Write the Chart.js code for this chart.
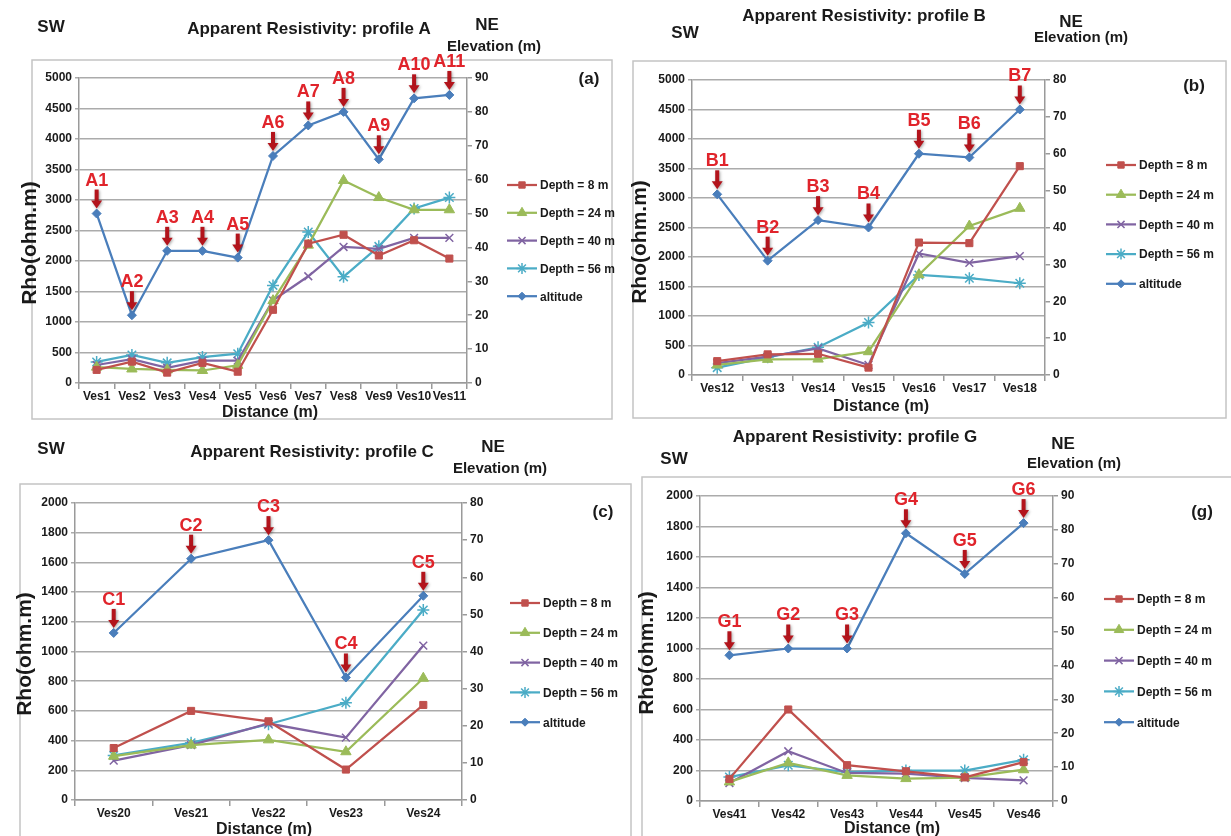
<!DOCTYPE html>
<html>
<head>
<meta charset="utf-8">
<script src="https://cdn.jsdelivr.net/npm/chart.js@4.4.1/dist/chart.umd.min.js"></script>
<style>
  body { margin: 0; background: #fff; width: 1231px; height: 836px; overflow: hidden; position: relative; }
  canvas { position: absolute; }
</style>
</head>
<body>
<canvas id="panelA"></canvas>
<canvas id="panelB"></canvas>
<canvas id="panelC"></canvas>
<canvas id="panelG"></canvas>
<script>
// ---- datos ----
const categoriasA = ['Ves1', 'Ves2', 'Ves3', 'Ves4', 'Ves5', 'Ves6', 'Ves7', 'Ves8', 'Ves9', 'Ves10', 'Ves11'];
const prof8A = [215, 350, 170, 330, 185, 1200, 2285, 2430, 2090, 2340, 2040];
const prof24A = [260, 230, 215, 205, 290, 1350, 2260, 3320, 3040, 2840, 2840];
const prof40A = [295, 390, 250, 365, 365, 1355, 1750, 2230, 2200, 2380, 2380];
const prof56A = [345, 460, 330, 425, 480, 1600, 2475, 1740, 2240, 2860, 3040];
const altitudA = [50, 20, 39, 39, 37, 67, 76, 80, 66, 84, 85];
const marcasA = ['A1', 'A2', 'A3', 'A4', 'A5', 'A6', 'A7', 'A8', 'A9', 'A10', 'A11'];

const categoriasB = ['Ves12', 'Ves13', 'Ves14', 'Ves15', 'Ves16', 'Ves17', 'Ves18'];
const prof8B = [235, 350, 360, 125, 2245, 2235, 3540];
const prof24B = [170, 265, 270, 395, 1700, 2525, 2825];
const prof40B = [200, 310, 450, 170, 2060, 1900, 2015];
const prof56B = [125, 300, 470, 890, 1695, 1640, 1555];
const altitudB = [49, 31, 42, 40, 60, 59, 72];
const marcasB = ['B1', 'B2', 'B3', 'B4', 'B5', 'B6', 'B7'];

const categoriasC = ['Ves20', 'Ves21', 'Ves22', 'Ves23', 'Ves24'];
const prof8C = [350, 600, 530, 205, 640];
const prof24C = [295, 370, 405, 325, 820];
const prof40C = [265, 370, 515, 420, 1040];
const prof56C = [300, 385, 510, 655, 1280];
const altitudC = [45, 65, 70, 33, 55];
const marcasC = ['C1', 'C2', 'C3', 'C4', 'C5'];

const categoriasG = ['Ves41', 'Ves42', 'Ves43', 'Ves44', 'Ves45', 'Ves46'];
const prof8G = [145, 600, 235, 195, 155, 255];
const prof24G = [125, 250, 168, 147, 153, 205];
const prof40G = [118, 326, 184, 180, 151, 135];
const prof56G = [157, 234, 190, 200, 200, 270];
const altitudG = [43, 45, 45, 79, 67, 82];
const marcasG = ['G1', 'G2', 'G3', 'G4', 'G5', 'G6'];

const nombresSeries = ['Depth = 8 m', 'Depth = 24 m', 'Depth = 40 m', 'Depth = 56 m', 'altitude'];

// ---- estilos ----
const estilos = [
  { color: '#C0504D', punto: 'rect', radio: 5, borde: 1 },
  { color: '#9BBB59', punto: 'triangle', radio: 6, borde: 1 },
  { color: '#8064A2', punto: 'crossRot', radio: 5.5, borde: 1.5 },
  { color: '#4BACC6', punto: 'star', radio: 6, borde: 1.5 },
  { color: '#4A7EBB', punto: 'rectRot', radio: 4.5, borde: 1 }
];
const FUENTE = '"Liberation Sans", Arial, sans-serif';

// layout de cada panel, en coordenadas de la pagina
const paneles = {
  A: {
    caja: { x: 0, y: 0, w: 620, h: 420 },
    area: { left: 79, right: 467, top: 78, bottom: 383 },
    marco: { x: 32, y: 60, w: 580, h: 359 },
    maxY: 5000, pasoY: 500, maxY2: 90,
    titulo: 'Apparent Resistivity: profile A', posTitulo: [309, 29],
    sw: [51, 27], ne: [487, 25], elev: [494, 47], letra: ['(a)', 589, 79],
    rho: [30, 243], dist: [270, 413], leyenda: [507, 185, 27.8]
  },
  B: {
    caja: { x: 620, y: 0, w: 611, h: 420 },
    area: { left: 692, right: 1045, top: 80, bottom: 375 },
    marco: { x: 633, y: 61, w: 593, h: 357 },
    maxY: 5000, pasoY: 500, maxY2: 80,
    titulo: 'Apparent Resistivity: profile B', posTitulo: [864, 16],
    sw: [685, 33], ne: [1071, 22], elev: [1081, 38], letra: ['(b)', 1194, 86],
    rho: [640, 242], dist: [881, 407], leyenda: [1106, 165, 29.7]
  },
  C: {
    caja: { x: 0, y: 420, w: 636, h: 416 },
    area: { left: 75, right: 462, top: 503, bottom: 800 },
    marco: { x: 20, y: 484, w: 611, h: 400 },
    maxY: 2000, pasoY: 200, maxY2: 80,
    titulo: 'Apparent Resistivity: profile C', posTitulo: [312, 452],
    sw: [51, 449], ne: [493, 447], elev: [500, 469], letra: ['(c)', 603, 512],
    rho: [25, 654], dist: [264, 830], leyenda: [510, 603, 29.8]
  },
  G: {
    caja: { x: 636, y: 420, w: 595, h: 416 },
    area: { left: 700, right: 1053, top: 496, bottom: 801 },
    marco: { x: 642, y: 477, w: 600, h: 400 },
    maxY: 2000, pasoY: 200, maxY2: 90,
    titulo: 'Apparent Resistivity: profile G', posTitulo: [855, 437],
    sw: [674, 459], ne: [1063, 444], elev: [1074, 464], letra: ['(g)', 1202, 512],
    rho: [647, 653], dist: [892, 829], leyenda: [1104, 599, 30.8]
  }
};

function texto(ctx, cadena, x, y, fuente, color, rotacion) {
  ctx.save();
  ctx.translate(x, y);
  if (rotacion) {
    ctx.rotate(rotacion);
  }
  ctx.font = fuente;
  ctx.fillStyle = color;
  ctx.textAlign = 'center';
  ctx.textBaseline = 'middle';
  ctx.fillText(cadena, 0, 0);
  ctx.restore();
}

function dibujarMarcador(ctx, estilo, x, y) {
  ctx.fillStyle = estilo.color;
  ctx.strokeStyle = estilo.color;
  ctx.lineWidth = estilo.borde;
  if (Chart.helpers && Chart.helpers.drawPoint) {
    Chart.helpers.drawPoint(ctx, { pointStyle: estilo.punto, radius: estilo.radio - 0.5, borderWidth: estilo.borde, rotation: 0 }, x, y);
  } else {
    ctx.fillRect(x - 4, y - 4, 8, 8);
  }
}

function flecha(ctx, x, y) {
  ctx.save();
  ctx.shadowColor = 'rgba(0,0,0,0.35)';
  ctx.shadowBlur = 3;
  ctx.shadowOffsetX = 1;
  ctx.shadowOffsetY = 1;
  ctx.fillStyle = '#b3141c';
  ctx.fillRect(x - 2, y - 24, 4, 12);
  ctx.beginPath();
  ctx.moveTo(x - 5.5, y - 13);
  ctx.lineTo(x + 5.5, y - 13);
  ctx.lineTo(x, y - 5);
  ctx.closePath();
  ctx.fill();
  ctx.restore();
}

function crearDecoracion(panel, marcas) {
  const dx = panel.caja.x;
  const dy = panel.caja.y;
  return {
    id: 'decoracion',
    beforeDraw: function (chart) {
      const ctx = chart.ctx;
      ctx.save();
      ctx.strokeStyle = '#c4c4c4';
      ctx.lineWidth = 1.5;
      ctx.strokeRect(panel.marco.x - dx, panel.marco.y - dy, panel.marco.w, panel.marco.h);
      ctx.restore();
    },
    afterDatasetsDraw: function (chart) {
      const ctx = chart.ctx;
      const meta = chart.getDatasetMeta(4);
      meta.data.forEach(function (p, i) {
        flecha(ctx, p.x, p.y);
        texto(ctx, marcas[i], p.x, p.y - 33, 'bold 18px ' + FUENTE, '#e0242b');
      });
    },
    afterDraw: function (chart) {
      const ctx = chart.ctx;
      const negro = '#1a1a1a';
      texto(ctx, panel.titulo, panel.posTitulo[0] - dx, panel.posTitulo[1] - dy, 'bold 17px ' + FUENTE, negro);
      texto(ctx, 'SW', panel.sw[0] - dx, panel.sw[1] - dy, 'bold 17px ' + FUENTE, negro);
      texto(ctx, 'NE', panel.ne[0] - dx, panel.ne[1] - dy, 'bold 17px ' + FUENTE, negro);
      texto(ctx, 'Elevation (m)', panel.elev[0] - dx, panel.elev[1] - dy, 'bold 15px ' + FUENTE, negro);
      texto(ctx, panel.letra[0], panel.letra[1] - dx, panel.letra[2] - dy, 'bold 17px ' + FUENTE, negro);
      texto(ctx, 'Rho(ohm.m)', panel.rho[0] - dx, panel.rho[1] - dy, 'bold 21px ' + FUENTE, negro, -Math.PI / 2);
      texto(ctx, 'Distance (m)', panel.dist[0] - dx, panel.dist[1] - dy, 'bold 16px ' + FUENTE, negro);

      // leyenda: linea + marcador + texto
      const lx = panel.leyenda[0] - dx;
      nombresSeries.forEach(function (nombre, i) {
        const ly = panel.leyenda[1] - dy + i * panel.leyenda[2];
        const est = estilos[i];
        ctx.save();
        ctx.strokeStyle = est.color;
        ctx.lineWidth = 2.25;
        ctx.beginPath();
        ctx.moveTo(lx, ly);
        ctx.lineTo(lx + 30, ly);
        ctx.stroke();
        dibujarMarcador(ctx, est, lx + 15, ly);
        ctx.font = 'bold 12px ' + FUENTE;
        ctx.fillStyle = negro;
        ctx.textAlign = 'left';
        ctx.textBaseline = 'middle';
        ctx.fillText(nombre, lx + 33, ly + 1);
        ctx.restore();
      });
    }
  };
}

function sinSeparador(valor) {
  return String(valor);
}

function crearGrafico(idCanvas, panel, categorias, series, marcas) {
  const canvas = document.getElementById(idCanvas);
  if (!canvas) {
    return null;
  }
  const caja = panel.caja;
  canvas.width = caja.w;
  canvas.height = caja.h;
  canvas.style.left = caja.x + 'px';
  canvas.style.top = caja.y + 'px';

  const anchoY = 45;
  const anchoY2 = 40;
  const altoX = 26;
  const area = panel.area;
  const relleno = {
    left: area.left - caja.x - anchoY,
    right: caja.x + caja.w - area.right - anchoY2,
    top: area.top - caja.y,
    bottom: caja.y + caja.h - area.bottom - altoX
  };

  const conjuntos = series.map(function (valores, i) {
    const est = estilos[i];
    return {
      label: nombresSeries[i],
      data: valores,
      yAxisID: i === 4 ? 'y1' : 'y',
      borderColor: est.color,
      backgroundColor: est.color,
      pointStyle: est.punto,
      pointRadius: est.radio,
      pointBorderWidth: est.borde,
      borderWidth: 2.25,
      tension: 0
    };
  });

  const fuenteTicks = { family: FUENTE, size: 12, weight: 'bold' };

  return new Chart(canvas.getContext('2d'), {
    type: 'line',
    data: { labels: categorias, datasets: conjuntos },
    options: {
      responsive: false,
      animation: false,
      events: [],
      layout: { padding: relleno },
      scales: {
        x: {
          type: 'category',
          offset: true,
          afterFit: function (s) { s.height = altoX; },
          grid: { drawOnChartArea: false, drawTicks: true, tickLength: 6, offset: true, color: '#9a9a9a', lineWidth: 1.5 },
          border: { display: true, color: '#9a9a9a', width: 1.5 },
          ticks: { color: '#1a1a1a', font: fuenteTicks, padding: 0, maxRotation: 0, autoSkip: false }
        },
        y: {
          position: 'left',
          min: 0,
          max: panel.maxY,
          afterFit: function (s) { s.width = anchoY; },
          grid: { color: '#ababab', lineWidth: 1.5, drawTicks: true, tickLength: 4 },
          border: { display: true, color: '#9a9a9a', width: 1.5 },
          ticks: { stepSize: panel.pasoY, color: '#1a1a1a', font: fuenteTicks, padding: 3, callback: sinSeparador }
        },
        y1: {
          position: 'right',
          min: 0,
          max: panel.maxY2,
          afterFit: function (s) { s.width = anchoY2; },
          grid: { drawOnChartArea: false, drawTicks: true, tickLength: 5, color: '#9a9a9a', lineWidth: 1.5 },
          border: { display: true, color: '#9a9a9a', width: 1.5 },
          ticks: { stepSize: 10, color: '#1a1a1a', font: fuenteTicks, padding: 3, callback: sinSeparador }
        }
      },
      plugins: {
        legend: { display: false },
        tooltip: { enabled: false }
      }
    },
    plugins: [crearDecoracion(panel, marcas)]
  });
}

crearGrafico('panelA', paneles.A, categoriasA, [prof8A, prof24A, prof40A, prof56A, altitudA], marcasA);
crearGrafico('panelB', paneles.B, categoriasB, [prof8B, prof24B, prof40B, prof56B, altitudB], marcasB);
crearGrafico('panelC', paneles.C, categoriasC, [prof8C, prof24C, prof40C, prof56C, altitudC], marcasC);
crearGrafico('panelG', paneles.G, categoriasG, [prof8G, prof24G, prof40G, prof56G, altitudG], marcasG);
</script>
</body>
</html>
